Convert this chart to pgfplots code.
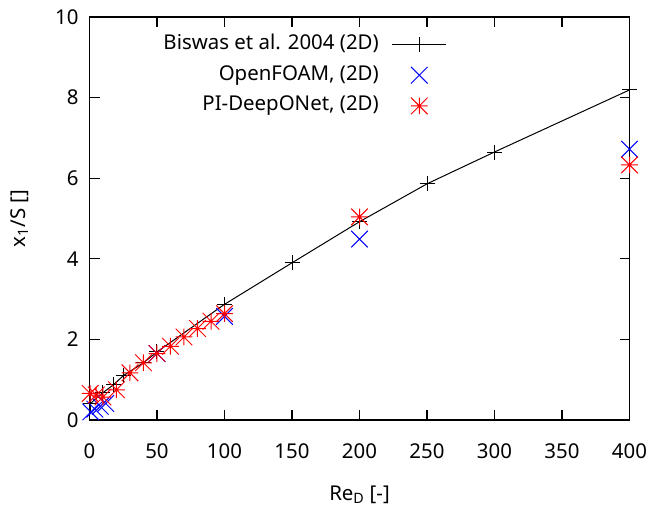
\documentclass[border=0pt]{standalone}
\usepackage{fontspec}
\setmainfont{Noto Sans}
\usepackage{pgfplots}
\pgfplotsset{compat=1.18}
\definecolor{gred}{RGB}{255,0,0}
\definecolor{gblue}{RGB}{0,0,255}
\pgfdeclareplotmark{star8}{%
  \pgfpathmoveto{\pgfqpoint{-\pgfplotmarksize}{0pt}}\pgfpathlineto{\pgfqpoint{\pgfplotmarksize}{0pt}}%
  \pgfpathmoveto{\pgfqpoint{0pt}{-\pgfplotmarksize}}\pgfpathlineto{\pgfqpoint{0pt}{\pgfplotmarksize}}%
  \pgfpathmoveto{\pgfqpoint{-\pgfplotmarksize}{-\pgfplotmarksize}}\pgfpathlineto{\pgfqpoint{\pgfplotmarksize}{\pgfplotmarksize}}%
  \pgfpathmoveto{\pgfqpoint{-\pgfplotmarksize}{\pgfplotmarksize}}\pgfpathlineto{\pgfqpoint{\pgfplotmarksize}{-\pgfplotmarksize}}%
  \pgfusepathqstroke}
\pgfdeclareplotmark{xx}{%
  \pgfpathmoveto{\pgfqpoint{-\pgfplotmarksize}{-\pgfplotmarksize}}\pgfpathlineto{\pgfqpoint{\pgfplotmarksize}{\pgfplotmarksize}}%
  \pgfpathmoveto{\pgfqpoint{-\pgfplotmarksize}{\pgfplotmarksize}}\pgfpathlineto{\pgfqpoint{\pgfplotmarksize}{-\pgfplotmarksize}}%
  \pgfusepathqstroke}
\newcommand{\gfont}{\fontsize{20.5}{24}\selectfont}
\begin{document}
\gfont
\begin{tikzpicture}
\begin{axis}[
  scale only axis,
  width=540bp, height=403bp,
  xmin=0, xmax=400, ymin=0, ymax=10,
  xtick={0,50,...,400}, ytick={0,2,...,10},
  tick align=inside,
  major tick length=10bp,
  axis line style={line width=1.3bp},
  every tick/.style={line width=1.1bp, black},
  /pgf/number format/assume math mode=true,
  tick label style={font=\gfont},
  xticklabel style={yshift=-17bp},
  yticklabel style={xshift=-4bp},
  xlabel={Re\textsubscript{D} [-]},
  ylabel={x\textsubscript{1}/S []},
  label style={font=\gfont},
  xlabel style={at={(rel axis cs:0.5,0)}, anchor=base, yshift=-80bp},
  ylabel style={at={(rel axis cs:0,0.5)}, anchor=center, yshift=70bp},
  legend cell align=right,
  legend plot pos=right,
  legend image code/.code={\draw[mark repeat=2,mark phase=2] plot coordinates {(0bp,0bp)(27bp,0bp)(54bp,0bp)};},
  legend style={at={(rel axis cs:0.662,0.957)}, anchor=north east, draw=none, fill=none,
    inner sep=0pt, font=\gfont,
    nodes={inner sep=0pt, text height=15bp, text depth=5bp},
    row sep=10.7bp, column sep=13bp},
]
\addplot[black, line width=1bp, mark=+, mark size=7.5bp, mark options={line width=1bp}] coordinates {
(1,0.42)(10,0.68)(18,0.88)(25,1.1)(40,1.42)(50,1.69)(100,2.87)(150,3.9)(200,4.92)(250,5.86)(300,6.65)(400,8.19)};
\addlegendentry{Biswas et al. 2004 (2D)}
\addplot[gblue, only marks, mark=xx, mark size=8.3bp, mark options={line width=1bp}] coordinates {
(1,0.2)(4,0.27)(8,0.34)(12,0.41)(50,1.65)(100,2.57)(200,4.49)(400,6.72)};
\addlegendentry{OpenFOAM, (2D)}
\addplot[gred, only marks, mark=star8, mark size=8.3bp, mark options={line width=1bp}] coordinates {
(0.5,0.66)(5,0.62)(10,0.57)(20,0.75)(30,1.17)(40,1.42)(50,1.65)(60,1.83)(70,2.06)(80,2.27)(90,2.45)(100,2.64)(200,5.04)(400,6.33)};
\addlegendentry{PI-DeepONet, (2D)}
\end{axis}
\pgfresetboundingbox
\path (-89.5bp,-88bp) rectangle (563.5bp,420bp);
\end{tikzpicture}
\end{document}
